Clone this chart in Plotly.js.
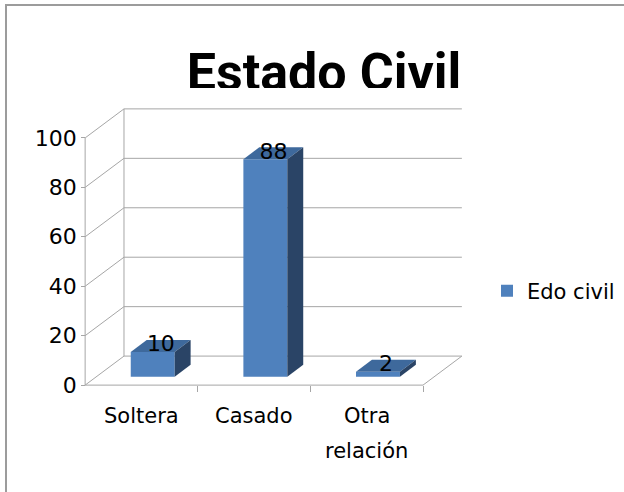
<!DOCTYPE html>
<html><head><meta charset="utf-8">
<script src="https://cdn.plot.ly/plotly-3.0.1.min.js"></script>
<style>
html,body{margin:0;padding:0;background:#fff;}
#wrap{position:relative;width:624px;height:492px;overflow:hidden;}
#chart{position:absolute;left:0;top:0;width:624px;height:492px;}
#frame{position:absolute;left:5px;top:4px;width:640px;height:500px;border-top:2px solid #9c9c9c;border-left:2px solid #9c9c9c;pointer-events:none;}
#clip{position:absolute;left:150px;top:88px;width:360px;height:14px;background:#fff;}
</style></head><body>
<div id="wrap"><div id="chart"></div><div id="clip"></div><div id="frame"></div></div>
<script>
// ---- data ----
const categories = ['Soltera', 'Casado', 'Otra relación'];
const categoryLines = [['Soltera'], ['Casado'], ['Otra', 'relación']];
const values = [10, 88, 2];
const seriesName = 'Edo civil';
const yTicks = [0, 20, 40, 60, 80, 100];
const chartTitle = 'Estado Civil';

// ---- 3D projection settings (axis units) ----
const DX = 0.345, DY = 11.74;      // depth vector
const F0 = 0.29, F1 = 0.70;        // bar front/back depth fraction
const HW = 0.195;                  // bar half width
const YMAX = 100;
const padX = 0.09, padY = 4;
const xr = [-0.5 - padX, categories.length - 0.5 + DX + padX];
const yr = [0 - padY, YMAX + DY + padY];

// pixel frame: front-left x, back-right x, floor y, back top y
const pxL = 85, pxR = 462, pyB = 385, pyT = 109, W = 624, H = 492;
const ux = (pxR - pxL) / (categories.length + DX);
const uy = (pyB - pyT) / (YMAX + DY);
const mL = pxL - padX * ux;
const plotW = (xr[1] - xr[0]) * ux;
const mR = W - mL - plotW;
const mB = H - pyB - padY * uy;
const plotH = (yr[1] - yr[0]) * uy;
const mT = H - mB - plotH;

const FRONT = '#4F81BD', TOP = '#3E699C', SIDE = '#2A4466';
const GRID = '#A6A6A6';
const FONT = 'DejaVu Sans';

const xs = categories.map((c, i) => i);
const traces = [];

traces.push({
  type: 'bar', name: seriesName,
  x: xs.map(i => i + F0 * DX), y: values, base: values.map(() => F0 * DY),
  width: 2 * HW, marker: {color: FRONT, line: {width: 0}},
  hoverinfo: 'skip', showlegend: true
});

values.forEach((v, i) => {
  const xl0 = i - HW + F0 * DX, xr0 = i + HW + F0 * DX;
  const xl1 = i - HW + F1 * DX, xr1 = i + HW + F1 * DX;
  const y0 = F0 * DY, y1 = F1 * DY;
  traces.push({
    type: 'scatter', mode: 'lines', fill: 'toself', fillcolor: TOP,
    line: {width: 0, color: TOP}, hoverinfo: 'skip', showlegend: false,
    x: [xl0, xr0, xr1, xl1, xl0], y: [v + y0, v + y0, v + y1, v + y1, v + y0]
  });
  traces.push({
    type: 'scatter', mode: 'lines', fill: 'toself', fillcolor: SIDE,
    line: {width: 0, color: SIDE}, hoverinfo: 'skip', showlegend: false,
    x: [xr0, xr0, xr1, xr1, xr0], y: [y0, v + y0, v + y1, y1, y0]
  });
});

traces.push({
  type: 'scatter', mode: 'text', showlegend: false, hoverinfo: 'skip',
  x: xs.map(i => i + 0.5 * DX), y: values.map(v => v + 0.5 * DY),
  text: values.map(String), textposition: 'middle center',
  textfont: {family: FONT, size: 22, color: '#000'}, cliponaxis: false
});

// grid / walls
const shapes = [];
const L = (x0, y0, x1, y1) => shapes.push({type: 'line', xref: 'x', yref: 'y', x0, y0, x1, y1, layer: 'below', line: {color: GRID, width: 1}});
const xBackL = -0.5 + DX, xBackR = categories.length - 0.5 + DX, xFrontR = categories.length - 0.5;
yTicks.forEach(t => {
  L(xBackL, t + DY, xBackR, t + DY);   // back wall
  L(-0.5, t, xBackL, t + DY);          // side wall diagonal
});
L(-0.5, 0, -0.5, YMAX);                // front vertical axis
L(xBackL, DY, xBackL, YMAX + DY);      // back wall left edge
L(-0.5, 0, xFrontR, 0);                // floor front
L(xFrontR, 0, xBackR, DY);             // floor right

const yPos = (-0.5 - xr[0]) / (xr[1] - xr[0]);
const xPos = (0 - yr[0]) / (yr[1] - yr[0]);

const annotations = [];
categoryLines.forEach((lines, i) => {
  lines.forEach((t, j) => {
    annotations.push({
      xref: 'x', yref: 'paper', x: i, y: xPos, yanchor: 'middle', xanchor: 'center',
      yshift: -(31 + 35 * j), text: t, showarrow: false,
      font: {family: FONT, size: 21, color: '#000'}
    });
  });
});

const layout = {
  width: W, height: H,
  margin: {l: mL, r: mR, t: mT, b: mB, pad: 0},
  paper_bgcolor: 'rgba(0,0,0,0)', plot_bgcolor: 'rgba(0,0,0,0)',
  title: {
    text: chartTitle, x: 324 / W, xref: 'container', xanchor: 'center',
    y: 1 - 72 / H, yref: 'container', yanchor: 'middle',
    font: {family: 'Roboto', size: 52, weight: 700, color: '#000'}
  },
  xaxis: {
    range: xr, showgrid: false, zeroline: false, showline: false,
    tickvals: xs.map(i => i + 0.5), ticks: 'outside', ticklen: 6, tickcolor: GRID, tickwidth: 1,
    showticklabels: false, anchor: 'free', position: xPos, fixedrange: true
  },
  yaxis: {
    range: yr, showgrid: false, zeroline: false, showline: false,
    tickvals: yTicks, ticktext: yTicks.map(String), ticks: 'outside', ticklen: 4, tickcolor: GRID, tickwidth: 1,
    tickfont: {family: FONT, size: 22, color: '#000'},
    anchor: 'free', position: yPos, fixedrange: true
  },
  showlegend: true,
  legend: {
    x: 487 / W, xref: 'container', xanchor: 'left',
    y: 1 - 291 / H, yref: 'container', yanchor: 'middle',
    font: {family: FONT, size: 21, color: '#000'}, bgcolor: 'rgba(0,0,0,0)'
  },
  shapes, annotations
};

Plotly.newPlot('chart', traces, layout, {displayModeBar: false, staticPlot: true});
</script>
</body></html>
